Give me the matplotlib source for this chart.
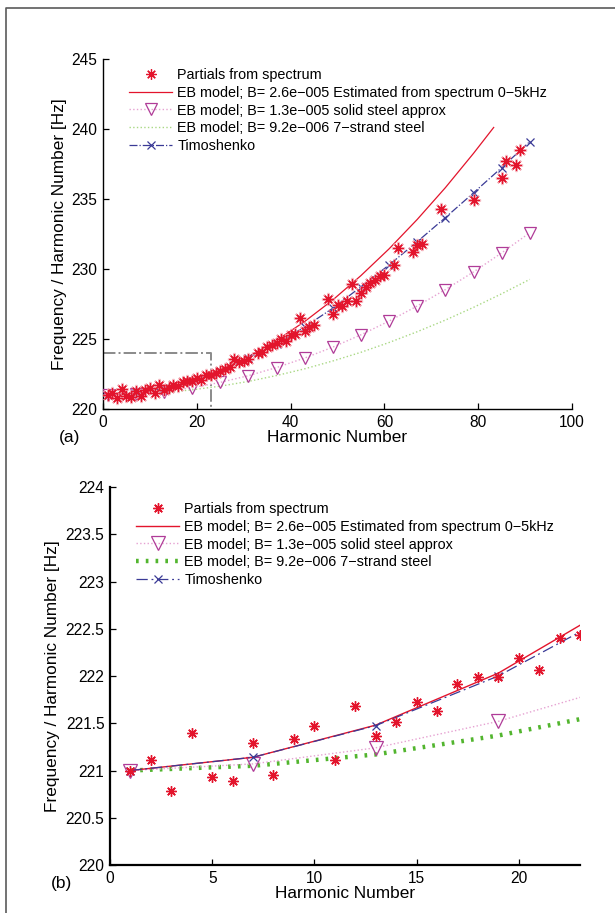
import matplotlib
matplotlib.use("Agg")
import matplotlib.pyplot as plt
from matplotlib.lines import Line2D
from matplotlib.ticker import FuncFormatter

plt.rcParams['font.family'] = ['Liberation Sans', 'DejaVu Sans']

# ---------------------------------------------------------------- data
# measured partials: frequency / harmonic number [Hz]
partial_n = [1, 2, 3, 4, 5, 6, 7, 8, 9, 10, 11, 12, 13, 14, 15, 16, 17, 18, 19, 20,
             21, 22, 23, 24, 25, 26, 27, 28, 29, 30, 31, 33, 34, 35, 36, 37, 38, 39,
             40, 41, 42, 43, 44, 45, 48, 49, 50, 51, 52, 53, 54, 55, 56, 57, 58, 59,
             60, 62, 63, 66, 67, 68, 72, 79, 85, 86, 88, 89]
partial_f = [220.99, 221.11, 220.78, 221.40, 220.93, 220.89, 221.29, 220.95, 221.33,
             221.47, 221.11, 221.68, 221.37, 221.51, 221.72, 221.63, 221.92, 221.99,
             221.99, 222.19, 222.06, 222.40, 222.43, 222.60, 222.70, 222.85, 223.00,
             223.60, 223.35, 223.45, 223.60, 224.00, 224.10, 224.45, 224.60, 224.70,
             225.00, 224.85, 225.30, 225.35, 226.50, 225.60, 225.85, 226.00, 227.85,
             226.80, 227.40, 227.35, 227.75, 228.90, 227.75, 228.30, 228.70, 229.00,
             229.20, 229.50, 229.60, 230.30, 231.50, 231.20, 231.70, 231.80, 234.30,
             234.95, 236.50, 237.70, 237.45, 238.50]

# model curves evaluated every sixth harmonic
model_n = [1, 7, 13, 19, 25, 31, 37, 43, 49, 55, 61, 67, 73, 79, 85, 91]
eb_est_n = [1, 7, 13, 19, 25, 31, 37, 43, 49, 55, 61, 67, 73, 79, 83.3]
eb_est_f = [221.00, 221.14, 221.48, 222.03, 222.79, 223.74, 224.90, 226.25, 227.79,
            229.53, 231.44, 233.54, 235.81, 238.26, 240.11]
eb_solid_f = [221.00, 221.07, 221.24, 221.52, 221.90, 222.38, 222.96, 223.64, 224.42,
              225.30, 226.28, 227.36, 228.53, 229.79, 231.15, 232.59]
eb_strand_f = [221.00, 221.05, 221.17, 221.37, 221.63, 221.97, 222.39, 222.87, 223.43,
               224.05, 224.75, 225.52, 226.35, 227.26, 228.23, 229.26]
timo_f = [221.00, 221.14, 221.475, 222.00, 222.70, 223.65, 224.67, 225.86, 227.20,
          228.73, 230.29, 231.95, 233.67, 235.44, 237.24, 239.10]

# zoom window marked in panel (a)
zoom_x = [0, 23, 23]
zoom_y = [224, 224, 220]

labels = ['Partials from spectrum',
          'EB model; B= 2.6e\u2212005 Estimated from spectrum 0\u22125kHz',
          'EB model; B= 1.3e\u2212005 solid steel approx',
          'EB model; B= 9.2e\u2212006 7\u2212strand steel',
          'Timoshenko']

# ---------------------------------------------------------------- styles
RED = '#e3142c'
RED_LIGHT = '#f29aa6'
PINK_LINE = '#e6a2d2'
PURPLE = '#b03c98'
GREEN_A = '#a9d884'
GREEN_B = '#52b52e'
BLUE = '#3a3a96'
STAR = (8, 2, 0)
FS = 10.4
TICK_FS = 11.2
LABEL_FS = 12.4

W, H = 615, 913
fig = plt.figure(figsize=(W / 100, H / 100), dpi=100)


def px_axes(left, top, right, bottom):
    return fig.add_axes([left / W, 1 - bottom / H, (right - left) / W, (bottom - top) / H])


def style_axes(ax):
    for s in ('top', 'right'):
        ax.spines[s].set_visible(False)
    for s in ('left', 'bottom'):
        ax.spines[s].set_linewidth(1.0)
    ax.tick_params(direction='in', length=4, width=0.9, labelsize=TICK_FS, pad=4)


def fmt_g(v, pos):
    return '%g' % v


# ---------------------------------------------------------------- panel (a)
ax1 = px_axes(103, 59, 572, 409)
style_axes(ax1)
ax1.plot(zoom_x, zoom_y, linestyle='-.', color='#8a8a8a', lw=1.4, zorder=1)
ax1.plot(model_n, eb_strand_f, linestyle=':', color=GREEN_A, lw=1.0, zorder=2)
ax1.plot(model_n, eb_solid_f, linestyle=':', color=PINK_LINE, lw=1.0, zorder=2)
ax1.plot(model_n, eb_solid_f, linestyle='none', marker='v', ms=9, mfc='none',
         mec=PURPLE, mew=0.9, zorder=3)
ax1.plot(eb_est_n, eb_est_f, '-', color=RED, lw=0.9, zorder=3)
ax1.plot(model_n, timo_f, linestyle='-.', color=BLUE, lw=0.9, marker='x', ms=6,
         mew=0.9, zorder=4)
ax1.plot(partial_n, partial_f, linestyle='none', marker=STAR, ms=9.5, mec=RED_LIGHT,
         mew=1.3, alpha=0.7, zorder=5)
ax1.plot(partial_n, partial_f, linestyle='none', marker=STAR, ms=7.5, mec=RED,
         mew=0.9, zorder=6)
ax1.set_xlim(0, 100)
ax1.set_ylim(220, 245)
ax1.set_xticks([0, 20, 40, 60, 80, 100])
ax1.set_yticks([220, 225, 230, 235, 240, 245])
ax1.set_xlabel('Harmonic Number', fontsize=LABEL_FS, labelpad=0)
ax1.set_ylabel('Frequency / Harmonic Number [Hz]', fontsize=LABEL_FS, labelpad=3)

h_a = [Line2D([], [], linestyle='none', marker=STAR, ms=7.5, mec=RED, mew=0.9),
       Line2D([], [], color=RED, lw=0.9),
       Line2D([], [], color=PINK_LINE, linestyle=':', lw=1.0, marker='v', ms=9,
              mfc='none', mec=PURPLE, mew=0.9),
       Line2D([], [], color=GREEN_A, linestyle=':', lw=1.0),
       Line2D([], [], color=BLUE, linestyle='-.', lw=0.9, marker='x', ms=6, mew=0.9)]
leg_a = ax1.legend(h_a, labels, loc='upper left', frameon=False, fontsize=FS,
                   bbox_to_anchor=((129 - 103) / 469, 1 - (68 - 59) / 350),
                   handlelength=3.0, handletextpad=0.35, labelspacing=0.26,
                   borderaxespad=0, borderpad=0, numpoints=1)
fig.text(70 / W, 1 - 437 / H, '(a)', fontsize=12.5, ha='center', va='center')

# ---------------------------------------------------------------- panel (b)
ax2 = px_axes(110, 487, 580, 865)
style_axes(ax2)
ax2.spines['left'].set_linewidth(1.6)
ax2.spines['bottom'].set_linewidth(1.6)
ax2.plot(model_n, eb_strand_f, linestyle=(0, (0.6, 1.6)), color=GREEN_B, lw=3.2,
         zorder=2)
ax2.plot(model_n, eb_solid_f, linestyle=':', color=PINK_LINE, lw=1.0, zorder=2)
ax2.plot(model_n, eb_solid_f, linestyle='none', marker='v', ms=9.5, mfc='none',
         mec=PURPLE, mew=0.9, zorder=3)
ax2.plot(eb_est_n, eb_est_f, '-', color=RED, lw=1.0, zorder=3)
ax2.plot(model_n, timo_f, linestyle=(0, (9, 3, 1.5, 3)), color=BLUE, lw=0.9,
         marker='x', ms=6, mew=0.9, zorder=4)
ax2.plot(partial_n, partial_f, linestyle='none', marker=STAR, ms=7.5, mec=RED,
         mew=1.0, zorder=6)
ax2.set_xlim(0, 23)
ax2.set_ylim(220, 224)
ax2.set_xticks([0, 5, 10, 15, 20])
ax2.set_yticks([220, 220.5, 221, 221.5, 222, 222.5, 223, 223.5, 224])
ax2.yaxis.set_major_formatter(FuncFormatter(fmt_g))
ax2.set_xlabel('Harmonic Number', fontsize=LABEL_FS, labelpad=0)
ax2.set_ylabel('Frequency / Harmonic Number [Hz]', fontsize=LABEL_FS, labelpad=4)

h_b = [Line2D([], [], linestyle='none', marker=STAR, ms=7.5, mec=RED, mew=1.0),
       Line2D([], [], color=RED, lw=1.0),
       Line2D([], [], color=PINK_LINE, linestyle=':', lw=1.0, marker='v', ms=9.5,
              mfc='none', mec=PURPLE, mew=0.9),
       Line2D([], [], color=GREEN_B, linestyle=(0, (0.6, 1.6)), lw=3.2),
       Line2D([], [], color=BLUE, linestyle=(0, (9, 3, 1.5, 3)), lw=0.9, marker='x',
              ms=6, mew=0.9)]
leg_b = ax2.legend(h_b, labels, loc='upper left', frameon=False, fontsize=FS,
                   bbox_to_anchor=((136 - 110) / 470, 1 - (502 - 487) / 378),
                   handlelength=3.0, handletextpad=0.35, labelspacing=0.26,
                   borderaxespad=0, borderpad=0, numpoints=1)
fig.text(62 / W, 1 - 883 / H, '(b)', fontsize=12.5, ha='center', va='center')

# page frame around the figure
fig.add_artist(Line2D([6 / W, 6 / W, 1.0], [0.0, 1 - 8 / H, 1 - 8 / H],
                      transform=fig.transFigure, color='#5a5a5a', lw=1.2))

fig.savefig('out.png', dpi=100)
